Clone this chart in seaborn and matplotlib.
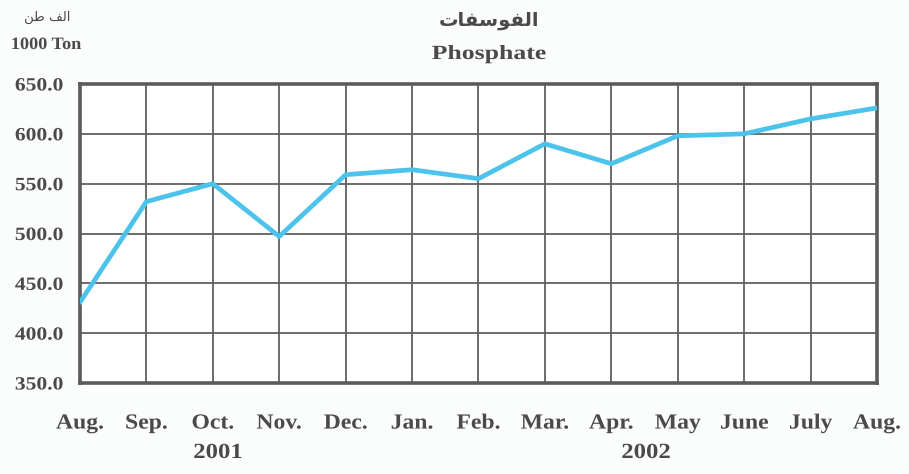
import numpy as np
import pandas as pd
import matplotlib
matplotlib.use("Agg")
import matplotlib.pyplot as plt
import seaborn as sns
from matplotlib.patheffects import AbstractPathEffect
from matplotlib.transforms import Affine2D

months = ["Aug.", "Sep.", "Oct.", "Nov.", "Dec.", "Jan.", "Feb.", "Mar.", "Apr.", "May", "June", "July", "Aug."]
values = [431, 532, 550, 497, 559, 564, 555, 590, 570, 598, 600, 615, 626]
yticks = [350, 400, 450, 500, 550, 600, 650]
years = ["2001", "2002"]


class Stretch(AbstractPathEffect):
    """Stretch text horizontally about its centre (or right edge)."""
    def __init__(self, sx, anchor="center"):
        super().__init__()
        self.sx = sx
        self.anchor = anchor

    def draw_path(self, renderer, gc, tpath, affine, rgbFace=None):
        bb = tpath.get_extents(affine)
        cx = bb.x1 if self.anchor == "right" else (bb.x0 + bb.x1) / 2
        a = affine + Affine2D().translate(-cx, 0).scale(self.sx, 1).translate(cx, 0)
        renderer.draw_path(gc, tpath, a, rgbFace)


sns.set_style("white")
plt.rcParams['font.family'] = ['Liberation Serif', 'DejaVu Sans']

txt = "#4a4a4a"
fig = plt.figure(figsize=(9.09, 4.74), dpi=100)
fig.patch.set_facecolor("#fbfcfc")
ax = fig.add_axes([80/909, 1-383/474, (877-80)/909, (383-84)/474])
ax.set_facecolor("white")

df = pd.DataFrame({"idx": np.arange(len(months)), "value": values})
sns.lineplot(data=df, x="idx", y="value", ax=ax, color="#4cc3ea", linewidth=3.4, zorder=3)

ax.set_xlim(0, len(months) - 1)
ax.set_ylim(350, 650)
ax.set_yticks(yticks)
ax.set_yticklabels([f"{v:.1f}" for v in yticks], fontsize=13.5, fontweight="bold", color=txt)
ax.set_xticks(np.arange(len(months)))
ax.set_xticklabels(months, fontsize=15.5, fontweight="bold", color=txt)
for t in ax.get_yticklabels():
    t.set_path_effects([Stretch(1.15, "right")])
for t in ax.get_xticklabels():
    t.set_path_effects([Stretch(1.1)])
ax.tick_params(axis="y", length=0, pad=12)
ax.tick_params(axis="x", length=0, pad=22)
ax.grid(True, color="#606060", linewidth=1.3, zorder=1)
for s in ax.spines.values():
    s.set_visible(True)
    s.set_color("#5a5a5a")
    s.set_linewidth(2.6)
ax.set_xlabel("")
ax.set_ylabel("")

for xpos, yr in zip([218, 646], years):
    fig.text(xpos/909, 1-453/474, yr, ha="center", va="center", fontsize=15.5,
             fontweight="bold", color=txt, path_effects=[Stretch(1.15)])

# Arabic title (presentation forms, visual order)
ar_title = "\uFE95\uFE8E\uFED4\uFEB3\uFEEE\uFED4\uFEDF\uFE8D"
ar_unit = "\uFEE6\uFEC3 \uFED2\uFEDF\uFE8D"
fig.text(489/909, 1-21/474, ar_title, ha="center", va="center", fontsize=14, fontweight="bold", color=txt, family=['DejaVu Sans'])
fig.text(489/909, 1-54/474, "Phosphate", ha="center", va="center", fontsize=14.5, fontweight="bold",
         color=txt, path_effects=[Stretch(1.28)])
fig.text(47/909, 1-17/474, ar_unit, ha="center", va="center", fontsize=9.5, color=txt, family=['DejaVu Sans'])
fig.text(46/909, 1-45/474, "1000 Ton", ha="center", va="center", fontsize=12.5, fontweight="bold",
         color=txt, path_effects=[Stretch(1.05)])

fig.savefig("out.png", dpi=100, facecolor=fig.get_facecolor())
